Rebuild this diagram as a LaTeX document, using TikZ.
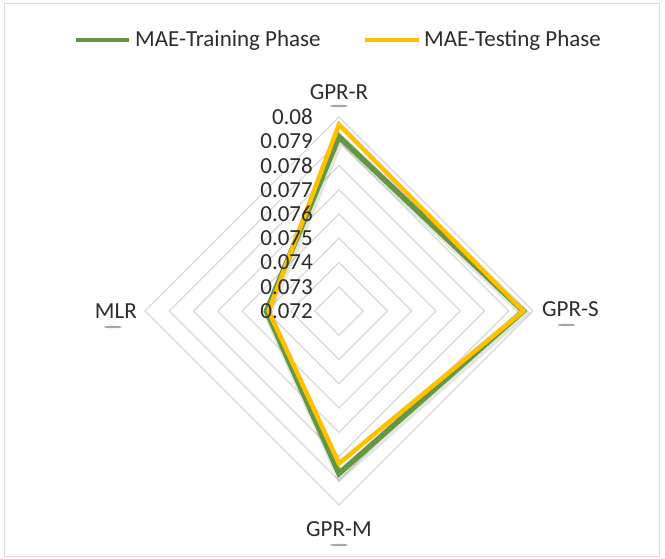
\documentclass[tikz,border=0pt]{standalone}
\usepackage{fontspec}
\setmainfont{Carlito}
\usetikzlibrary{positioning}

\definecolor{trgreen}{RGB}{100,150,68}
\definecolor{tsyellow}{RGB}{255,192,0}
\definecolor{ringgray}{RGB}{217,217,217}
\definecolor{txtgray}{RGB}{45,45,45}

\newcommand{\radv}[1]{(#1-0.072)*1000*24.25}

\tikzset{
  ring/.style={draw=ringgray, line width=1.4pt},
  trainline/.style={draw=trgreen, line width=5.5pt, line join=miter},
  trainshade/.style={draw=trgreen!60!black, opacity=0.15, line width=9pt, line join=miter},
  testline/.style={draw=tsyellow, line width=4.5pt, line join=miter},
  lab/.style={text=txtgray, font=\fontsize{23}{26}\selectfont, inner sep=0pt},
  labshade/.style={fill=black, opacity=0.35},
}

\begin{document}
\begin{tikzpicture}[x=1pt,y=1pt]
  \fill[white] (-339,-248) rectangle (326,311);
  \useasboundingbox (-339,-248) rectangle (326,311);
  \draw[ringgray, line width=1pt] (-334,-246) rectangle (321,307);

  \foreach \k in {1,...,8}
    \draw[ring] (0,\k*24.25) -- (\k*24.25,0) -- (0,-\k*24.25) -- (-\k*24.25,0) -- cycle;

  \coordinate (trR) at (90:{\radv{0.0792}});
  \coordinate (trS) at (0:{\radv{0.0796}});
  \coordinate (trM) at (-90:{\radv{0.0787}});
  \coordinate (trL) at (180:{\radv{0.0750}});
  \coordinate (tsR) at (90:{\radv{0.0797}});
  \coordinate (tsS) at (0:{\radv{0.0796}});
  \coordinate (tsM) at (-90:{\radv{0.0783}});
  \coordinate (tsL) at (180:{\radv{0.0749}});

  \draw[trainshade] ([xshift=1pt,yshift=-2pt]trR) -- ([xshift=1pt,yshift=-2pt]trS)
    -- ([xshift=1pt,yshift=-2pt]trM) -- ([xshift=1pt,yshift=-2pt]trL) -- cycle;
  \draw[trainline] (trR) -- (trS) -- (trM) -- (trL) -- cycle;
  \draw[testline] (tsR) -- (tsS) -- (tsM) -- (tsL) -- cycle;

  \foreach \k/\v in {0/0.072,1/0.073,2/0.074,3/0.075,4/0.076,5/0.077,6/0.078,7/0.079,8/0.08}
    \node[lab, anchor=east] (tick\k) at (-26,\k*24.25) {\v};

  \node[lab] (axR) at (0,219) {GPR-R};
  \node[lab, anchor=west] (axS) at (203,2) {GPR-S};
  \node[lab] (axM) at (0,-218) {GPR-M};
  \node[lab, anchor=east] (axL) at (-202,0) {MLR};
  \fill[labshade] ([yshift=-14pt]axR.center) ellipse (9 and 1.2);
  \fill[labshade] ([xshift=-4pt,yshift=-16pt]axS.center) ellipse (9 and 1.2);
  \fill[labshade] ([xshift=-3pt,yshift=-16pt]axL.center) ellipse (9 and 1.2);
  \fill[labshade] ([yshift=-16pt]axM.center) ellipse (9 and 1.2);

  \coordinate (lgtrA) at (-263,271);
  \coordinate (lgtrB) at (-210,271);
  \coordinate (lgtsA) at (26,271);
  \coordinate (lgtsB) at (80,271);
  \draw[trgreen, line width=4pt] (lgtrA) -- (lgtrB);
  \node[lab, right=6pt of lgtrB] (lgtr) {MAE-Training Phase};
  \draw[tsyellow, line width=4pt] (lgtsA) -- (lgtsB);
  \node[lab, right=5pt of lgtsB] (lgts) {MAE-Testing Phase};
\end{tikzpicture}
\end{document}
